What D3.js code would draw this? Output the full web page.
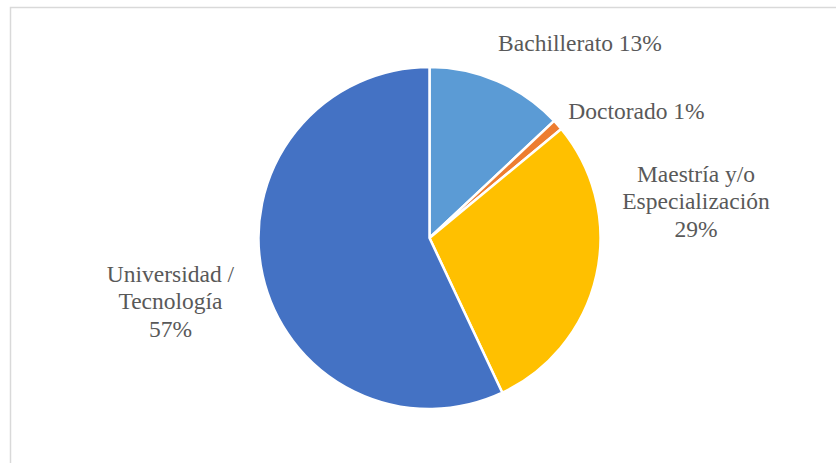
<!DOCTYPE html>
<html>
<head>
<meta charset="utf-8">
<script src="https://cdn.jsdelivr.net/npm/d3@7"></script>
<style>
  html, body { margin: 0; padding: 0; background: #ffffff; }
  svg { display: block; }
</style>
</head>
<body>
<svg id="chart" width="836" height="463"></svg>
<script>
// Nivel educativo: shares in percent, clockwise from 12 o'clock
const categories = ["Bachillerato", "Doctorado", "Maestría y/o Especialización", "Universidad / Tecnología"];
const values = [13, 1, 29, 57];
const colors = ["#5B9BD5", "#ED7D31", "#FFC000", "#4472C4"];
// Label lines for each slice (last line carries the percentage)
const labelLines = [
  ["Bachillerato 13%"],
  ["Doctorado 1%"],
  ["Maestría y/o", "Especialización", "29%"],
  ["Universidad /", "Tecnología", "57%"]
];

const svg = d3.select("#chart");
const W = 836, H = 463;
const FONT = '"Times New Roman", "Liberation Serif", serif';

// chart area frame
svg.append("rect")
  .attr("x", 10.5).attr("y", 7.5)
  .attr("width", W + 20).attr("height", H + 20)
  .attr("fill", "#ffffff")
  .attr("stroke", "#d9d9d9")
  .attr("stroke-width", 1.5);

const cx = 429.5, cy = 238, radius = 171;

const pie = d3.pie().sort(null).value(d => d)(values);
const arc = d3.arc().innerRadius(0).outerRadius(radius);

const g = svg.append("g").attr("transform", `translate(${cx},${cy})`);

g.selectAll("path.slice")
  .data(pie)
  .join("path")
  .attr("class", "slice")
  .attr("d", arc)
  .attr("fill", (d, i) => colors[i])
  .attr("stroke", "#ffffff")
  .attr("stroke-width", 2.5)
  .attr("stroke-linejoin", "round");

// Label anchor positions (absolute, centre of the first baseline)
const labelPos = [
  { x: 580, y: 51 },
  { x: 636.5, y: 118.5 },
  { x: 696, y: 182 },
  { x: 170.5, y: 282 }
];
const lineGap = 27.3;

labelLines.forEach((lines, i) => {
  const t = svg.append("text")
    .style("font-family", FONT)
    .style("font-size", "23.5px")
    .style("fill", "#595959")
    .attr("text-anchor", "middle")
    .attr("x", labelPos[i].x)
    .attr("y", labelPos[i].y);
  lines.forEach((ln, j) => {
    t.append("tspan")
      .attr("x", labelPos[i].x)
      .attr("dy", j === 0 ? 0 : lineGap)
      .text(ln);
  });
});
</script>
</body>
</html>
